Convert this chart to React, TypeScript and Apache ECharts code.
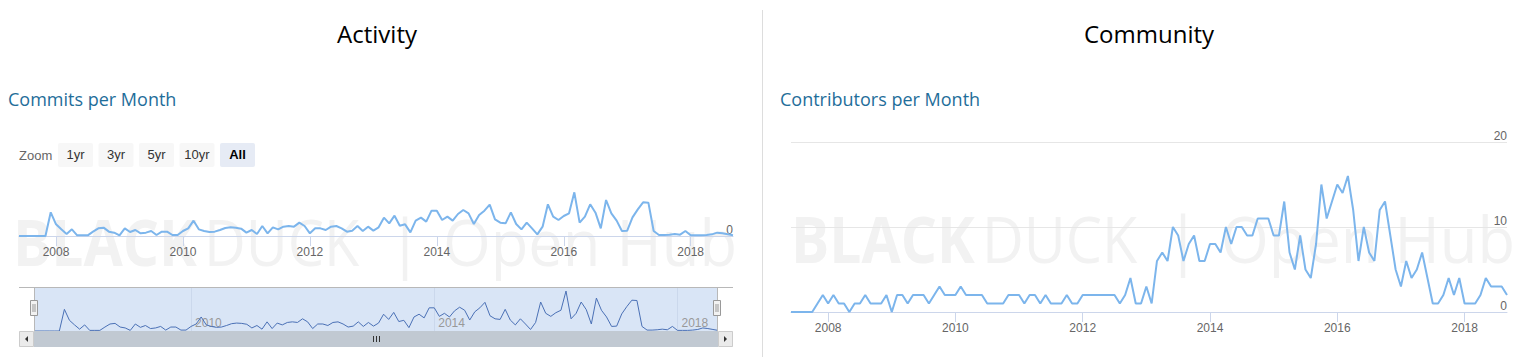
import React, { useEffect, useRef } from "react";
import * as echarts from "echarts";

// Months from 2007-06 through 2018-09
const months: string[] = [];
for (let i = 0; i < 136; i++) {
  const y = 2007 + Math.floor((5 + i) / 12);
  const m = ((5 + i) % 12) + 1;
  months.push(`${y}-${String(m).padStart(2, "0")}`);
}

const commits: number[] = [
  0, 0, 0, 0, 0, 0, 71, 35, 20, 6, 20, 2, 2, 2, 13, 23, 25, 13, 10, 2,
  23, 12, 18, 8, 10, 15, 3, 13, 13, 3, 3, 15, 23, 46, 20, 15, 12, 13, 18, 24,
  26, 25, 22, 10, 18, 6, 30, 8, 26, 20, 28, 30, 28, 40, 30, 8, 23, 23, 18, 28,
  30, 23, 13, 16, 30, 15, 28, 16, 26, 55, 38, 61, 31, 35, 11, 46, 55, 43, 76, 76,
  48, 58, 46, 66, 78, 68, 36, 63, 76, 94, 50, 40, 38, 71, 36, 20, 40, 23, 5, 28,
  95, 58, 48, 60, 68, 131, 40, 58, 95, 70, 23, 108, 68, 46, 15, 16, 56, 80, 101, 100,
  15, 3, 3, 4, 6, 4, 15, 2, 2, 2, 3, 5, 10, 8, 5, 2,
];

const contributors: number[] = [
  0, 0, 0, 0, 0, 1, 2, 1, 2, 1, 1, 0, 1, 1, 2, 1, 1, 1, 2, 0,
  2, 2, 1, 2, 2, 2, 1, 2, 3, 2, 2, 2, 3, 2, 2, 2, 2, 1, 1, 1,
  1, 2, 2, 2, 1, 2, 2, 1, 2, 1, 1, 1, 2, 1, 1, 2, 2, 2, 2, 2,
  2, 2, 1, 2, 4, 1, 1, 3, 1, 6, 7, 6, 10, 9, 6, 8, 9, 6, 6, 8,
  8, 7, 10, 8, 10, 10, 9, 9, 11, 11, 11, 9, 9, 13, 7, 5, 9, 5, 4, 8,
  15, 11, 13, 15, 14, 16, 12, 6, 10, 7, 6, 12, 13, 9, 5, 3, 6, 4, 5, 7,
  4, 1, 1, 2, 4, 2, 4, 1, 1, 1, 2, 4, 3, 3, 3, 2,
];

const zoomButtons: string[] = ["1yr", "3yr", "5yr", "10yr", "All"];
const rightTicks: number[] = [0, 10, 20];

const LABEL_FONT = "'Liberation Sans', Arial, sans-serif";
const TITLE_FONT = "'Open Sans', 'DejaVu Sans', sans-serif";

const isEvenYearJan = (_i: number, v: string) => v.endsWith("-01") && parseInt(v.slice(0, 4)) % 2 === 0;
const isNavYear = (_i: number, v: string) => v.endsWith("-01") && (parseInt(v.slice(0, 4)) - 2010) % 4 === 0;
const yearOf = (v: string) => v.slice(0, 4);

function watermark(ox: number, cy: number, prefix: string) {
  const color = "#f2f2f2";
  return [
    { type: "text", id: prefix + "wm1", x: ox, y: cy, z: -10, scaleX: 0.89,
      style: { text: "BLACK", fontFamily: TITLE_FONT, fontWeight: "bold", fontSize: 64, fill: color, textAlign: "left", textVerticalAlign: "middle" } },
    { type: "text", id: prefix + "wm2", x: ox + 191, y: cy, z: -10, scaleX: 0.9,
      style: { text: "DUCK", fontFamily: TITLE_FONT, fontSize: 64, fill: color, textAlign: "left", textVerticalAlign: "middle" } },
    { type: "text", id: prefix + "wm3", x: ox + 392, y: cy, z: -10,
      style: { text: "|", fontFamily: TITLE_FONT, fontSize: 64, fill: color, textAlign: "center", textVerticalAlign: "middle" } },
    { type: "text", id: prefix + "wm4", x: ox + 430, y: cy, z: -10, scaleX: 0.96,
      style: { text: "Open Hub", fontFamily: TITLE_FONT, fontSize: 64, fill: color, textAlign: "left", textVerticalAlign: "middle" } },
  ];
}

export default function App() {
  const ref = useRef<HTMLDivElement>(null);

  useEffect(() => {
    if (!ref.current) return;
    const chart = echarts.init(ref.current, undefined, { renderer: "svg" });

    const graphics: any[] = [];
    graphics.push(...watermark(13, 241, "l"));
    graphics.push(...watermark(791, 238, "r"));

    // divider
    graphics.push({ type: "line", shape: { x1: 762.5, y1: 10, x2: 762.5, y2: 357 }, style: { stroke: "#dddddd", lineWidth: 1 } });

    // titles
    graphics.push({ type: "text", x: 377, y: 33, style: { text: "Activity", fontFamily: TITLE_FONT, fontSize: 24, fill: "#000", textAlign: "center", textVerticalAlign: "middle" } });
    graphics.push({ type: "text", x: 1149, y: 33, style: { text: "Community", fontFamily: TITLE_FONT, fontSize: 24, fill: "#000", textAlign: "center", textVerticalAlign: "middle" } });
    graphics.push({ type: "text", x: 8, y: 99, style: { text: "Commits per Month", fontFamily: TITLE_FONT, fontSize: 18, fill: "#1f6e9a", textAlign: "left", textVerticalAlign: "middle" } });
    graphics.push({ type: "text", x: 780, y: 99, style: { text: "Contributors per Month", fontFamily: TITLE_FONT, fontSize: 18, fill: "#1f6e9a", textAlign: "left", textVerticalAlign: "middle" } });

    // range selector
    graphics.push({ type: "text", x: 19, y: 155, style: { text: "Zoom", fontFamily: LABEL_FONT, fontSize: 13, fill: "#666666", textAlign: "left", textVerticalAlign: "middle" } });
    zoomButtons.forEach((b, i) => {
      const x = 58 + i * 40.5;
      const sel = b === "All";
      graphics.push({ type: "rect", shape: { x, y: 143, width: 35, height: 24, r: 2 }, style: { fill: sel ? "#e6ebf5" : "#f7f7f7" } });
      graphics.push({ type: "text", x: x + 17.5, y: 154, style: { text: b, fontFamily: LABEL_FONT, fontSize: 13, fontWeight: sel ? "bold" : "normal", fill: sel ? "#000" : "#333", textAlign: "center", textVerticalAlign: "middle" } });
    });

    // navigator mask + outline
    graphics.push({ type: "rect", z: -5, shape: { x: 34, y: 288, width: 684, height: 43 }, style: { fill: "#d9e5f6" } });
    graphics.push({ type: "line", z: 50, shape: { x1: 19, y1: 287.5, x2: 733, y2: 287.5 }, style: { stroke: "#b8b8b8", lineWidth: 1 } });
    graphics.push({ type: "line", z: 50, shape: { x1: 34.5, y1: 287.5, x2: 34.5, y2: 331 }, style: { stroke: "#b8b8b8", lineWidth: 1 } });
    graphics.push({ type: "line", z: 50, shape: { x1: 717.5, y1: 287.5, x2: 717.5, y2: 331 }, style: { stroke: "#b8b8b8", lineWidth: 1 } });
    // handles
    [30.5, 713.5].forEach((hx) => {
      graphics.push({ type: "rect", z: 60, shape: { x: hx, y: 300.5, width: 7, height: 15 }, style: { fill: "#f2f2f2", stroke: "#999999", lineWidth: 1 } });
      graphics.push({ type: "line", z: 61, shape: { x1: hx + 2.5, y1: 304, x2: hx + 2.5, y2: 312 }, style: { stroke: "#999999", lineWidth: 1 } });
      graphics.push({ type: "line", z: 61, shape: { x1: hx + 4.5, y1: 304, x2: hx + 4.5, y2: 312 }, style: { stroke: "#999999", lineWidth: 1 } });
    });

    // scrollbar
    graphics.push({ type: "rect", z: 50, shape: { x: 19, y: 331, width: 714, height: 16 }, style: { fill: "#f2f2f2" } });
    graphics.push({ type: "rect", z: 51, shape: { x: 34, y: 331, width: 684, height: 16 }, style: { fill: "#c1c9d2" } });
    graphics.push({ type: "rect", z: 52, shape: { x: 19.5, y: 331.5, width: 14, height: 15 }, style: { fill: "#ebebeb", stroke: "#cccccc", lineWidth: 1 } });
    graphics.push({ type: "rect", z: 52, shape: { x: 718.5, y: 331.5, width: 14, height: 15 }, style: { fill: "#ebebeb", stroke: "#cccccc", lineWidth: 1 } });
    graphics.push({ type: "polygon", z: 53, shape: { points: [[28, 336], [28, 342], [25, 339]] }, style: { fill: "#333" } });
    graphics.push({ type: "polygon", z: 53, shape: { points: [[724, 336], [724, 342], [727, 339]] }, style: { fill: "#333" } });
    [373.5, 376.5, 379.5].forEach((rx) => {
      graphics.push({ type: "line", z: 53, shape: { x1: rx, y1: 336, x2: rx, y2: 342 }, style: { stroke: "#333", lineWidth: 1 } });
    });

    const xBase = {
      type: "category",
      data: months,
      boundaryGap: false,
      axisLine: { lineStyle: { color: "#ccd6eb", width: 1 } },
      axisTick: { show: true, interval: isEvenYearJan, length: 10, lineStyle: { color: "#ccd6eb" } },
      axisLabel: { interval: isEvenYearJan, formatter: yearOf, color: "#666666", fontSize: 12, fontFamily: LABEL_FONT, margin: 10 },
      splitLine: { show: false },
    };

    chart.setOption({
      animation: false,
      graphic: graphics,
      grid: [
        { left: 19, top: 176, width: 714, height: 60 },
        { left: 34, top: 288, width: 684, height: 43 },
        { left: 791, top: 142, width: 716, height: 170 },
      ],
      xAxis: [
        { ...xBase, gridIndex: 0 },
        {
          type: "category", data: months, boundaryGap: false, gridIndex: 1,
          axisLine: { show: false }, axisTick: { show: false },
          axisLabel: { inside: true, interval: isNavYear, formatter: yearOf, color: "#999999", fontSize: 12, fontFamily: LABEL_FONT, align: "left", padding: [0, 0, 0, 4], margin: 2 },
          splitLine: { show: true, interval: isNavYear, lineStyle: { color: "#cbd8ec" } },
        },
        { ...xBase, gridIndex: 2 },
      ],
      yAxis: [
        {
          type: "value", gridIndex: 0, min: 0, max: 180, interval: 180, position: "right",
          axisLine: { show: false }, axisTick: { show: false }, splitLine: { show: false },
          axisLabel: { inside: true, margin: 0, verticalAlign: "bottom", formatter: (v: number) => (v === 0 ? "0" : ""), color: "#666666", fontSize: 12, fontFamily: LABEL_FONT },
        },
        { type: "value", gridIndex: 1, min: 0, max: 141, show: false },
        {
          type: "value", gridIndex: 2, min: rightTicks[0], max: rightTicks[2], interval: 10, position: "right",
          axisLine: { show: false }, axisTick: { show: false },
          splitLine: { show: true, lineStyle: { color: "#e6e6e6" } },
          axisLabel: { inside: true, margin: 0, verticalAlign: "bottom", color: "#666666", fontSize: 12, fontFamily: LABEL_FONT },
        },
      ],
      series: [
        { type: "line", name: "Commits", xAxisIndex: 0, yAxisIndex: 0, data: commits, symbol: "none", lineStyle: { color: "#7cb5ec", width: 2 }, itemStyle: { color: "#7cb5ec" } },
        { type: "line", name: "Navigator", xAxisIndex: 1, yAxisIndex: 1, data: commits, symbol: "none", lineStyle: { color: "#4a70b5", width: 1 }, itemStyle: { color: "#4a70b5" } },
        { type: "line", name: "Contributors", xAxisIndex: 2, yAxisIndex: 2, data: contributors, symbol: "none", lineStyle: { color: "#7cb5ec", width: 2 }, itemStyle: { color: "#7cb5ec" } },
      ],
    });

    return () => chart.dispose();
  }, []);

  return <div ref={ref} style={{ position: "absolute", left: 0, top: 0, width: 1528, height: 357 }} />;
}
